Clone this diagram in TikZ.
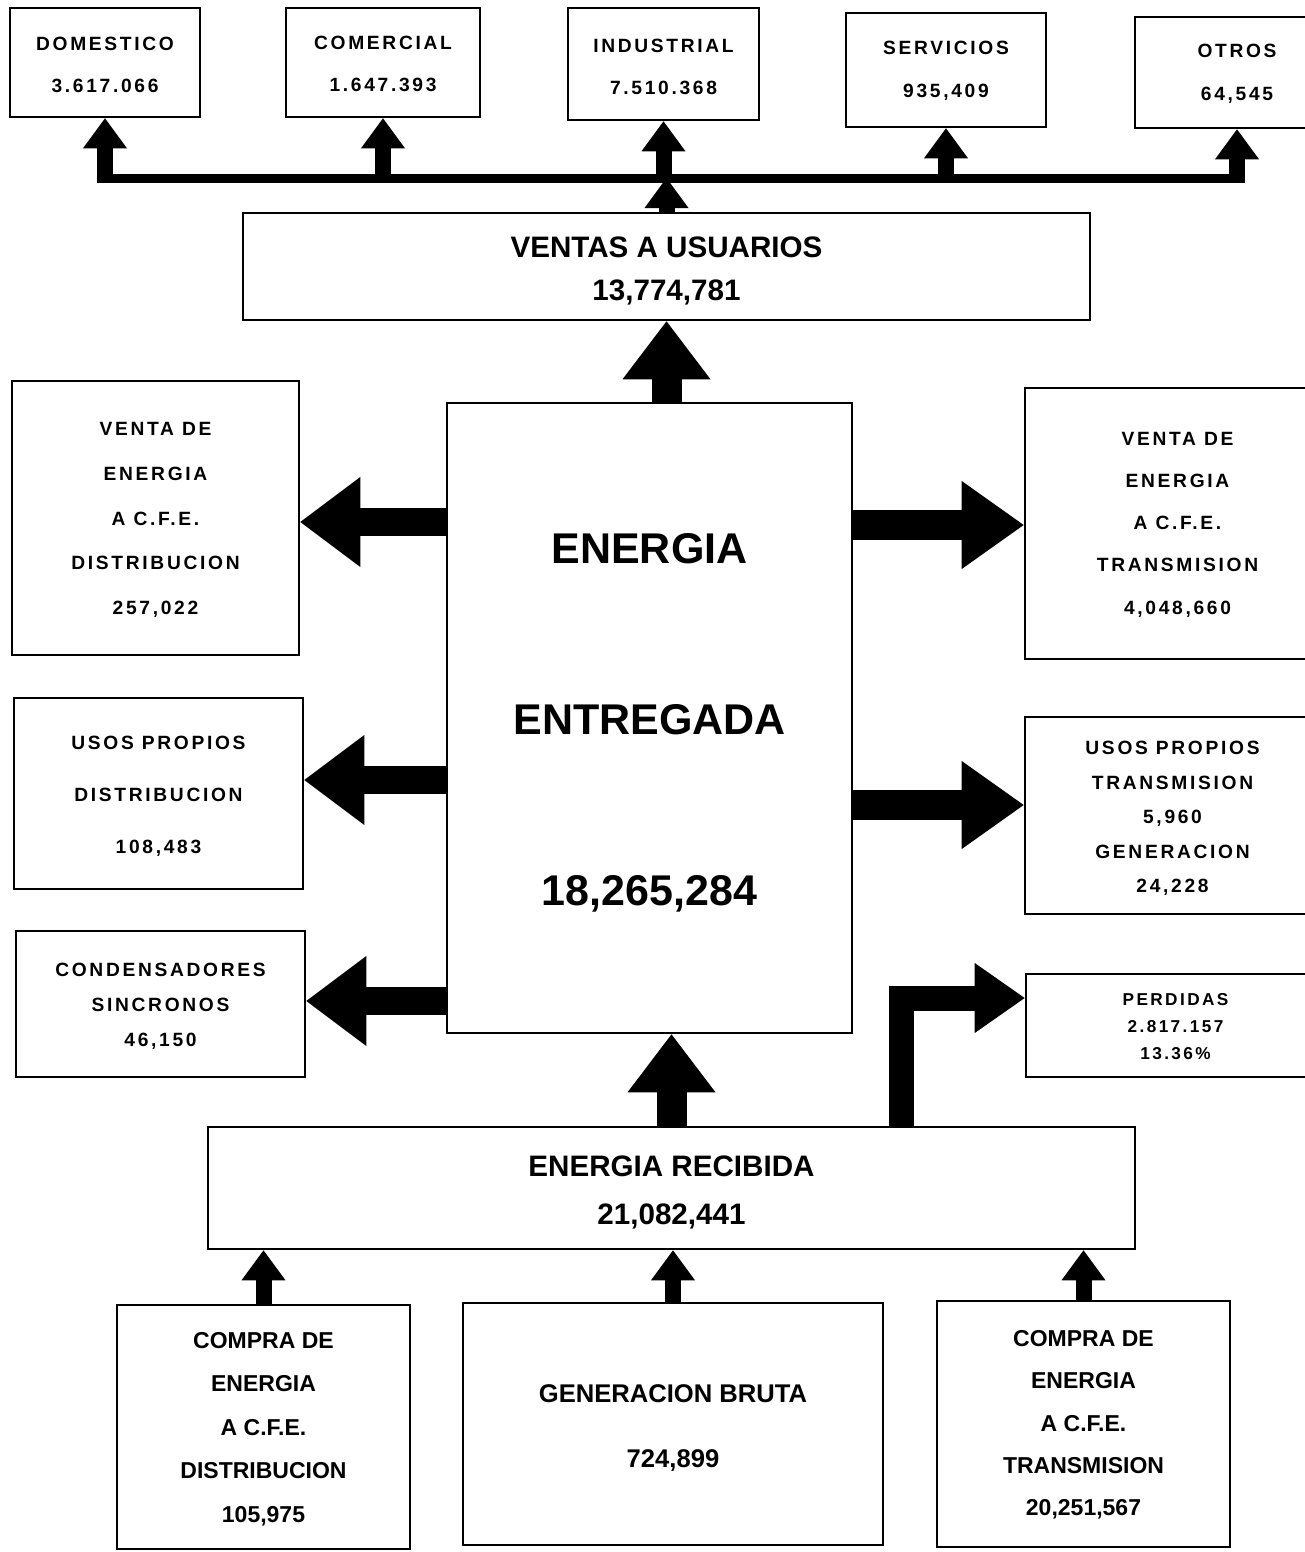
\documentclass[tikz,border=0pt]{standalone}
\usepackage{fontspec}
\setmainfont{Liberation Sans}
\newfontfamily\spaced{Liberation Sans}[LetterSpace=14]
\usetikzlibrary{arrows.meta}
\newcommand\dn[1]{\rule{0pt}{\dimexpr\fontcharht\font`\E+#1\relax}}
\begin{document}
\begin{tikzpicture}[x=0.5pt,y=-0.5pt,
  box/.style={draw, line width=1.3pt, inner sep=0pt, align=center, text=black},
  sm/.style={font={\spaced\bfseries\fontsize{9.6pt}{#1}\selectfont}},
  md/.style 2 args={font={\bfseries\fontsize{#1}{#2}\selectfont}},
  arsmall/.style={line width=8pt, -{Triangle[length=15pt,width=22pt,line width=0pt]}},
  arleft/.style={line width=14pt, -{Triangle[length=30pt,width=45pt,line width=0pt]}},
  arright/.style={line width=15pt, -{Triangle[length=31pt,width=44pt,line width=0pt]}},
  arup/.style={line width=15pt, -{Triangle[length=29pt,width=44pt,line width=0pt]}},
  arelbow/.style={line width=12.5pt, -{Triangle[length=25pt,width=35pt,line width=0pt]}},
  bus/.style={line width=4.5pt}]
\useasboundingbox (0,0) rectangle (1305,1552);
% top row
\node[box, sm=21pt, minimum width=95pt, minimum height=54.5pt] (dom) at (105,62.5) {\dn{3pt}DOMESTICO\\3.617.066};
\node[box, sm=21pt, minimum width=97pt, minimum height=54.5pt] (com) at (383,62.5) {\dn{2pt}COMERCIAL\\1.647.393};
\node[box, sm=21pt, minimum width=95.5pt, minimum height=56pt] (ind) at (663.5,64) {\dn{3.5pt}INDUSTRIAL\\7.510.368};
\node[box, sm=21.5pt, minimum width=100pt, minimum height=57pt] (ser) at (946,70) {\dn{0.5pt}SERVICIOS\\935,409};
\node[box, sm=21.5pt, minimum width=102pt, minimum height=55.5pt] (otr) at (1237,72.5) {\dn{1pt}OTROS\\64,545};
% ventas
\node[box, md={14.8pt}{21.5pt}, minimum width=423.5pt, minimum height=53.5pt] (ventas) at (666.5,266.5) {\dn{5pt}VENTAS A USUARIOS\\13,774,781};
% center
\node[box, md={21.5pt}{85.5pt}, minimum width=202.5pt, minimum height=315pt] (entregada) at (649.5,718) {\dn{5pt}ENERGIA\\ENTREGADA\\18,265,284};
% left
\node[box, sm=22.4pt, minimum width=143.5pt, minimum height=137pt] (L1) at (155.5,518) {\dn{2pt}VENTA DE\\ENERGIA\\A C.F.E.\\DISTRIBUCION\\257,022};
\node[box, sm=26pt, minimum width=144.5pt, minimum height=95.5pt] (L2) at (158.5,793.5) {\dn{3pt}USOS PROPIOS\\DISTRIBUCION\\108,483};
\node[box, sm=17.5pt, minimum width=144.5pt, minimum height=73pt] (L3) at (160.5,1004) {\dn{2pt}CONDENSADORES\\SINCRONOS\\46,150};
% right
\node[box, sm=21.1pt, minimum width=152.5pt, minimum height=135.5pt] (R1) at (1177.5,523.5) {\dn{1pt}VENTA DE\\ENERGIA\\A C.F.E.\\TRANSMISION\\4,048,660};
\node[box, sm=17.25pt, minimum width=147.5pt, minimum height=98.5pt] (R2) at (1172.5,815.5) {\dn{3pt}USOS PROPIOS\\TRANSMISION\\5,960\\GENERACION\\24,228};
\node[box, font={\spaced\bfseries\fontsize{8.6pt}{13.5pt}\selectfont}, minimum width=149.5pt, minimum height=51.5pt] (R3) at (1175.5,1025.5) {\dn{1pt}PERDIDAS\\2.817.157\\13.36\%};
% recibida
\node[box, md={14.8pt}{24pt}, minimum width=463.5pt, minimum height=61pt] (recibida) at (671.5,1188) {\dn{4.5pt}ENERGIA RECIBIDA\\21,082,441};
% bottom
\node[box, md={11.5pt}{21.75pt}, minimum width=146.5pt, minimum height=122pt] (B1) at (263.5,1427) {\dn{2pt}COMPRA DE\\ENERGIA\\A C.F.E.\\DISTRIBUCION\\105,975};
\node[box, md={12.8pt}{32.5pt}, minimum width=210pt, minimum height=121pt] (B2) at (673,1424) {\dn{4pt}GENERACION BRUTA\\724,899};
\node[box, md={11.5pt}{21.1pt}, minimum width=146.5pt, minimum height=123pt] (B3) at (1083.5,1424) {\dn{1pt}COMPRA DE\\ENERGIA\\A C.F.E.\\TRANSMISION\\20,251,567};
% top bus
\coordinate (busA) at (97,178);
\coordinate (busB) at (1245,178);
\draw[bus] (busA) -- (busB);
\foreach \n in {dom,com,ind,ser,otr}
  \draw[arsmall] (\n.south |- busA) -- (\n.south);
\draw[arsmall] (ventas.north) -- (ventas.north |- busA);
% center up
\draw[arup] (ventas.south |- entregada.north) -- (ventas.south);
\draw[arup] (recibida.north) -- (recibida.north |- entregada.south);
% left
\draw[arleft] (entregada.west |- 0,522) -- (L1.east |- 0,522);
\draw[arleft] (entregada.west |- 0,780) -- (L2.east |- 0,780);
\draw[arleft] (entregada.west |- 0,1001) -- (L3.east |- 0,1001);
% right
\draw[arright] (entregada.east |- 0,525) -- (R1.west |- 0,525);
\draw[arright] (entregada.east |- 0,805) -- (R2.west |- 0,805);
\draw[arelbow] (recibida.north -| 901.5,0) |- (R3.west |- 0,998);
% bottom
\foreach \n in {B1,B2,B3}
  \draw[arsmall] (\n.north) -- (\n.north |- recibida.south);
\end{tikzpicture}
\end{document}
